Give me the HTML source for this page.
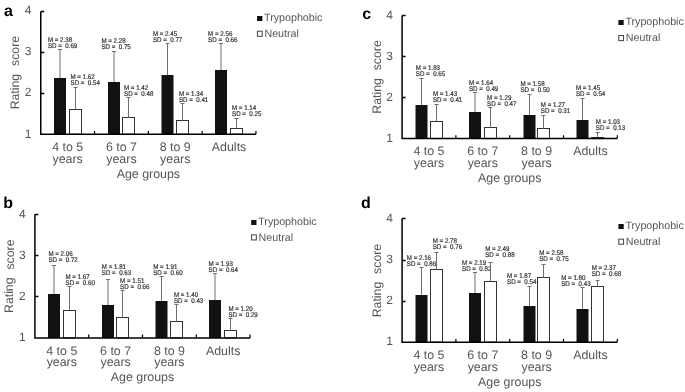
<!DOCTYPE html>
<html><head><meta charset="utf-8"><style>
html,body{margin:0;padding:0;background:#fff;}
body{width:685px;height:392px;overflow:hidden;}
svg{display:block;will-change:transform;text-rendering:geometricPrecision;font-family:"Liberation Sans",sans-serif;}
.let{font-size:16px;font-weight:bold;fill:#000;}
.tk{font-size:12px;fill:#555;text-anchor:end;}
.ax{font-size:12.3px;fill:#555;}
.cat{font-size:12.4px;fill:#555;text-anchor:middle;}
.leg{font-size:10.7px;fill:#555;}
.ms{font-size:6.8px;fill:#333;stroke:#333;stroke-width:0.2px;}
</style></head><body>
<svg width="685" height="392" viewBox="0 0 685 392">
<rect width="685" height="392" fill="#fff"/>
<text x="4" y="16.4" class="let">a</text>
<text x="31.5" y="137.5" class="tk">1</text>
<text x="31.5" y="96.42" class="tk">2</text>
<text x="31.5" y="55.34" class="tk">3</text>
<text x="31.5" y="14.26" class="tk">4</text>
<text transform="translate(19.25,109.35) rotate(-90)" class="ax">Rating</text>
<text transform="translate(19.35,65.95) rotate(-90)" class="ax">score</text>
<text x="67.65" y="150.95" class="cat">4 to 5</text>
<text x="67.65" y="162.7" class="cat">years</text>
<text x="121.45" y="150.95" class="cat">6 to 7</text>
<text x="121.45" y="162.7" class="cat">years</text>
<text x="175.25" y="150.95" class="cat">8 to 9</text>
<text x="175.25" y="162.7" class="cat">years</text>
<text x="229.05" y="150.95" class="cat">Adults</text>
<text x="148.35" y="177.75" class="cat">Age groups</text>
<rect x="257.05" y="16" width="5.3" height="5" fill="#111"/>
<rect x="257.4" y="31.2" width="4.8" height="5.1" fill="#fff" stroke="#444" stroke-width="1"/>
<text x="264.05" y="20.9" class="leg">Trypophobic</text>
<text x="264.45" y="36.7" class="leg">Neutral</text>
<rect x="54" y="78" width="12" height="56.25" fill="#111"/>
<rect x="69.5" y="109.5" width="12" height="24.75" fill="#fff" stroke="#333" stroke-width="1"/>
<path d="M60 78V49.5M58 49.5H62" stroke="#707070" stroke-width="1" fill="none"/>
<g transform="translate(47.9,41.7) scale(0.91,1)"><text x="0" y="0" class="ms">M = 2.38</text><text x="0" y="6.1" class="ms" xml:space="preserve">SD =  0.69</text></g>
<path d="M75.5 109.5V87.5M73.5 87.5H77.5" stroke="#707070" stroke-width="1" fill="none"/>
<g transform="translate(70.5,78.7) scale(0.91,1)"><text x="0" y="0" class="ms">M = 1.62</text><text x="0" y="6.1" class="ms" xml:space="preserve">SD =  0.54</text></g>
<rect x="108" y="82" width="12" height="52.25" fill="#111"/>
<rect x="122.5" y="117.5" width="12" height="16.75" fill="#fff" stroke="#333" stroke-width="1"/>
<path d="M114 82V51.5M112 51.5H116" stroke="#707070" stroke-width="1" fill="none"/>
<g transform="translate(101.4,42.7) scale(0.91,1)"><text x="0" y="0" class="ms">M = 2.28</text><text x="0" y="6.1" class="ms" xml:space="preserve">SD =  0.75</text></g>
<path d="M128.5 117.5V97.5M126.5 97.5H130.5" stroke="#707070" stroke-width="1" fill="none"/>
<g transform="translate(124,89.6) scale(0.91,1)"><text x="0" y="0" class="ms">M = 1.42</text><text x="0" y="6.1" class="ms" xml:space="preserve">SD =  0.48</text></g>
<rect x="161.5" y="75" width="12" height="59.25" fill="#111"/>
<rect x="176.5" y="120.5" width="12" height="13.75" fill="#fff" stroke="#333" stroke-width="1"/>
<path d="M167.5 75V43.5M165.5 43.5H169.5" stroke="#707070" stroke-width="1" fill="none"/>
<g transform="translate(152.9,35.6) scale(0.91,1)"><text x="0" y="0" class="ms">M = 2.45</text><text x="0" y="6.1" class="ms" xml:space="preserve">SD =  0.77</text></g>
<path d="M182.5 120.5V103.5M180.5 103.5H184.5" stroke="#707070" stroke-width="1" fill="none"/>
<g transform="translate(178.9,96.1) scale(0.91,1)"><text x="0" y="0" class="ms">M = 1.34</text><text x="0" y="6.1" class="ms" xml:space="preserve">SD =  0.41</text></g>
<rect x="215" y="70" width="12" height="64.25" fill="#111"/>
<rect x="230.5" y="128.5" width="12" height="5.75" fill="#fff" stroke="#333" stroke-width="1"/>
<path d="M221 70V43.5M219 43.5H223" stroke="#707070" stroke-width="1" fill="none"/>
<g transform="translate(208.1,35.8) scale(0.91,1)"><text x="0" y="0" class="ms">M = 2.56</text><text x="0" y="6.1" class="ms" xml:space="preserve">SD =  0.66</text></g>
<path d="M236.5 128.5V118.5M234.5 118.5H238.5" stroke="#707070" stroke-width="1" fill="none"/>
<g transform="translate(232,110.3) scale(0.91,1)"><text x="0" y="0" class="ms">M = 1.14</text><text x="0" y="6.1" class="ms" xml:space="preserve">SD =  0.25</text></g>
<path d="M40.75 11.5H44.25M40.75 52.5H44.25M40.75 93.5H44.25M40.75 11.5V134.25H255.95" stroke="#000" stroke-width="1.5" fill="none"/>
<path d="M94.55 134.25V130.95M148.35 134.25V130.95M202.15 134.25V130.95M255.95 134.25V130.95" stroke="#000" stroke-width="1.2" fill="none"/>
<text x="3.3" y="207.6" class="let">b</text>
<text x="25.65" y="341.15" class="tk">1</text>
<text x="25.65" y="300.07" class="tk">2</text>
<text x="25.65" y="258.99" class="tk">3</text>
<text x="25.65" y="217.91" class="tk">4</text>
<text transform="translate(13.4,313) rotate(-90)" class="ax">Rating</text>
<text transform="translate(13.5,269.6) rotate(-90)" class="ax">score</text>
<text x="61.8" y="354.6" class="cat">4 to 5</text>
<text x="61.8" y="366.35" class="cat">years</text>
<text x="115.6" y="354.6" class="cat">6 to 7</text>
<text x="115.6" y="366.35" class="cat">years</text>
<text x="169.4" y="354.6" class="cat">8 to 9</text>
<text x="169.4" y="366.35" class="cat">years</text>
<text x="223.2" y="354.6" class="cat">Adults</text>
<text x="142.5" y="381.4" class="cat">Age groups</text>
<rect x="251.2" y="220" width="5.3" height="5" fill="#111"/>
<rect x="251.55" y="234.85" width="4.8" height="5.1" fill="#fff" stroke="#444" stroke-width="1"/>
<text x="258.2" y="224.95" class="leg">Trypophobic</text>
<text x="258.6" y="240.75" class="leg">Neutral</text>
<rect x="48" y="294" width="12" height="43.9" fill="#111"/>
<rect x="63.5" y="310.5" width="12" height="27.4" fill="#fff" stroke="#333" stroke-width="1"/>
<path d="M54 294V265.5M52 265.5H56" stroke="#707070" stroke-width="1" fill="none"/>
<g transform="translate(48.4,256.4) scale(0.91,1)"><text x="0" y="0" class="ms">M = 2.06</text><text x="0" y="6.1" class="ms" xml:space="preserve">SD =  0.72</text></g>
<path d="M69.5 310.5V286.5M67.5 286.5H71.5" stroke="#707070" stroke-width="1" fill="none"/>
<g transform="translate(65.5,279) scale(0.91,1)"><text x="0" y="0" class="ms">M = 1.67</text><text x="0" y="6.1" class="ms" xml:space="preserve">SD =  0.60</text></g>
<rect x="102" y="305" width="12" height="32.9" fill="#111"/>
<rect x="116.5" y="317.5" width="12" height="20.4" fill="#fff" stroke="#333" stroke-width="1"/>
<path d="M108 305V279.5M106 279.5H110" stroke="#707070" stroke-width="1" fill="none"/>
<g transform="translate(101.8,269.4) scale(0.91,1)"><text x="0" y="0" class="ms">M = 1.81</text><text x="0" y="6.1" class="ms" xml:space="preserve">SD =  0.63</text></g>
<path d="M122.5 317.5V290.5M120.5 290.5H124.5" stroke="#707070" stroke-width="1" fill="none"/>
<g transform="translate(120.1,282.9) scale(0.91,1)"><text x="0" y="0" class="ms">M = 1.51</text><text x="0" y="6.1" class="ms" xml:space="preserve">SD =  0.66</text></g>
<rect x="155.5" y="301" width="12" height="36.9" fill="#111"/>
<rect x="170.5" y="321.5" width="12" height="16.4" fill="#fff" stroke="#333" stroke-width="1"/>
<path d="M161.5 301V276.5M159.5 276.5H163.5" stroke="#707070" stroke-width="1" fill="none"/>
<g transform="translate(153.2,268.6) scale(0.91,1)"><text x="0" y="0" class="ms">M = 1.91</text><text x="0" y="6.1" class="ms" xml:space="preserve">SD =  0.60</text></g>
<path d="M176.5 321.5V304.5M174.5 304.5H178.5" stroke="#707070" stroke-width="1" fill="none"/>
<g transform="translate(173.9,297) scale(0.91,1)"><text x="0" y="0" class="ms">M = 1.40</text><text x="0" y="6.1" class="ms" xml:space="preserve">SD =  0.43</text></g>
<rect x="209" y="300" width="12" height="37.9" fill="#111"/>
<rect x="224.5" y="330.5" width="12" height="7.4" fill="#fff" stroke="#333" stroke-width="1"/>
<path d="M215 300V273.5M213 273.5H217" stroke="#707070" stroke-width="1" fill="none"/>
<g transform="translate(208.6,266.4) scale(0.91,1)"><text x="0" y="0" class="ms">M = 1.93</text><text x="0" y="6.1" class="ms" xml:space="preserve">SD =  0.64</text></g>
<path d="M230.5 330.5V318.5M228.5 318.5H232.5" stroke="#707070" stroke-width="1" fill="none"/>
<g transform="translate(228.4,310.7) scale(0.91,1)"><text x="0" y="0" class="ms">M = 1.20</text><text x="0" y="6.1" class="ms" xml:space="preserve">SD =  0.29</text></g>
<path d="M34.9 214.5H38.4M34.9 255.5H38.4M34.9 296.5H38.4M34.9 214.5V337.9H250.1" stroke="#000" stroke-width="1.5" fill="none"/>
<path d="M88.7 337.9V334.6M142.5 337.9V334.6M196.3 337.9V334.6M250.1 337.9V334.6" stroke="#000" stroke-width="1.2" fill="none"/>
<text x="362.2" y="18.7" class="let">c</text>
<text x="392.85" y="141.85" class="tk">1</text>
<text x="392.85" y="100.77" class="tk">2</text>
<text x="392.85" y="59.69" class="tk">3</text>
<text x="392.85" y="18.61" class="tk">4</text>
<text transform="translate(380.6,113.7) rotate(-90)" class="ax">Rating</text>
<text transform="translate(380.7,70.3) rotate(-90)" class="ax">score</text>
<text x="429" y="154.9" class="cat">4 to 5</text>
<text x="429" y="166.65" class="cat">years</text>
<text x="482.8" y="154.9" class="cat">6 to 7</text>
<text x="482.8" y="166.65" class="cat">years</text>
<text x="536.6" y="154.9" class="cat">8 to 9</text>
<text x="536.6" y="166.65" class="cat">years</text>
<text x="590.4" y="154.9" class="cat">Adults</text>
<text x="509.7" y="181.7" class="cat">Age groups</text>
<rect x="618.4" y="20" width="5.3" height="5" fill="#111"/>
<rect x="618.75" y="35.55" width="4.8" height="5.1" fill="#fff" stroke="#444" stroke-width="1"/>
<text x="625.4" y="25.25" class="leg">Trypophobic</text>
<text x="625.8" y="41.05" class="leg">Neutral</text>
<rect x="415.5" y="105" width="12" height="33.6" fill="#111"/>
<rect x="430.5" y="121.5" width="12" height="17.1" fill="#fff" stroke="#333" stroke-width="1"/>
<path d="M421.5 105V78.5M419.5 78.5H423.5" stroke="#707070" stroke-width="1" fill="none"/>
<g transform="translate(415.8,69.9) scale(0.91,1)"><text x="0" y="0" class="ms">M = 1.83</text><text x="0" y="6.1" class="ms" xml:space="preserve">SD =  0.65</text></g>
<path d="M436.5 121.5V104.5M434.5 104.5H438.5" stroke="#707070" stroke-width="1" fill="none"/>
<g transform="translate(432.9,95.8) scale(0.91,1)"><text x="0" y="0" class="ms">M = 1.43</text><text x="0" y="6.1" class="ms" xml:space="preserve">SD =  0.41</text></g>
<rect x="469" y="112" width="12" height="26.6" fill="#111"/>
<rect x="484.5" y="127.5" width="12" height="11.1" fill="#fff" stroke="#333" stroke-width="1"/>
<path d="M475 112V92.5M473 92.5H477" stroke="#707070" stroke-width="1" fill="none"/>
<g transform="translate(468.9,84.5) scale(0.91,1)"><text x="0" y="0" class="ms">M = 1.64</text><text x="0" y="6.1" class="ms" xml:space="preserve">SD =  0.49</text></g>
<path d="M490.5 127.5V107.5M488.5 107.5H492.5" stroke="#707070" stroke-width="1" fill="none"/>
<g transform="translate(487.1,99.9) scale(0.91,1)"><text x="0" y="0" class="ms">M = 1.29</text><text x="0" y="6.1" class="ms" xml:space="preserve">SD =  0.47</text></g>
<rect x="523.5" y="115" width="12" height="23.6" fill="#111"/>
<rect x="537.5" y="128.5" width="12" height="10.1" fill="#fff" stroke="#333" stroke-width="1"/>
<path d="M529.5 115V94.5M527.5 94.5H531.5" stroke="#707070" stroke-width="1" fill="none"/>
<g transform="translate(520.4,85.9) scale(0.91,1)"><text x="0" y="0" class="ms">M = 1.58</text><text x="0" y="6.1" class="ms" xml:space="preserve">SD =  0.50</text></g>
<path d="M543.5 128.5V115.5M541.5 115.5H545.5" stroke="#707070" stroke-width="1" fill="none"/>
<g transform="translate(540.8,106.6) scale(0.91,1)"><text x="0" y="0" class="ms">M = 1.27</text><text x="0" y="6.1" class="ms" xml:space="preserve">SD =  0.31</text></g>
<rect x="576.5" y="120" width="12" height="18.6" fill="#111"/>
<rect x="591.5" y="137.5" width="12" height="1.1" fill="#fff" stroke="#333" stroke-width="1"/>
<path d="M582.5 120V98.5M580.5 98.5H584.5" stroke="#707070" stroke-width="1" fill="none"/>
<g transform="translate(575.9,90.3) scale(0.91,1)"><text x="0" y="0" class="ms">M = 1.45</text><text x="0" y="6.1" class="ms" xml:space="preserve">SD =  0.54</text></g>
<path d="M597.5 137.5V132.5M595.5 132.5H599.5" stroke="#707070" stroke-width="1" fill="none"/>
<g transform="translate(595.8,124) scale(0.91,1)"><text x="0" y="0" class="ms">M = 1.03</text><text x="0" y="6.1" class="ms" xml:space="preserve">SD =  0.13</text></g>
<path d="M402.1 15.5H405.6M402.1 56.5H405.6M402.1 97.5H405.6M402.1 15.5V138.6H617.3" stroke="#000" stroke-width="1.5" fill="none"/>
<path d="M455.9 138.6V135.3M509.7 138.6V135.3M563.5 138.6V135.3M617.3 138.6V135.3" stroke="#000" stroke-width="1.2" fill="none"/>
<text x="360.9" y="207.6" class="let">d</text>
<text x="392.85" y="345.45" class="tk">1</text>
<text x="392.85" y="304.37" class="tk">2</text>
<text x="392.85" y="263.29" class="tk">3</text>
<text x="392.85" y="222.21" class="tk">4</text>
<text transform="translate(380.6,317.3) rotate(-90)" class="ax">Rating</text>
<text transform="translate(380.7,273.9) rotate(-90)" class="ax">score</text>
<text x="429" y="358.9" class="cat">4 to 5</text>
<text x="429" y="370.65" class="cat">years</text>
<text x="482.8" y="358.9" class="cat">6 to 7</text>
<text x="482.8" y="370.65" class="cat">years</text>
<text x="536.6" y="358.9" class="cat">8 to 9</text>
<text x="536.6" y="370.65" class="cat">years</text>
<text x="590.4" y="358.9" class="cat">Adults</text>
<text x="509.7" y="385.7" class="cat">Age groups</text>
<rect x="618.4" y="224" width="5.3" height="5" fill="#111"/>
<rect x="618.75" y="239.15" width="4.8" height="5.1" fill="#fff" stroke="#444" stroke-width="1"/>
<text x="625.4" y="229.35" class="leg">Trypophobic</text>
<text x="625.8" y="245.15" class="leg">Neutral</text>
<rect x="415.5" y="295" width="12" height="47.2" fill="#111"/>
<rect x="430.5" y="269.5" width="12" height="72.7" fill="#fff" stroke="#333" stroke-width="1"/>
<path d="M421.5 295V267.5M419.5 267.5H423.5" stroke="#707070" stroke-width="1" fill="none"/>
<g transform="translate(406.8,260.2) scale(0.91,1)"><text x="0" y="0" class="ms">M = 2.16</text><text x="0" y="6.1" class="ms" xml:space="preserve">SD =  0.86</text></g>
<path d="M436.5 269.5V252.5M434.5 252.5H438.5" stroke="#707070" stroke-width="1" fill="none"/>
<g transform="translate(432.7,243.4) scale(0.91,1)"><text x="0" y="0" class="ms">M = 2.78</text><text x="0" y="6.1" class="ms" xml:space="preserve">SD =  0.76</text></g>
<rect x="469" y="293" width="12" height="49.2" fill="#111"/>
<rect x="484.5" y="281.5" width="12" height="60.7" fill="#fff" stroke="#333" stroke-width="1"/>
<path d="M475 293V272.5M473 272.5H477" stroke="#707070" stroke-width="1" fill="none"/>
<g transform="translate(462,264.9) scale(0.91,1)"><text x="0" y="0" class="ms">M = 2.19</text><text x="0" y="6.1" class="ms" xml:space="preserve">SD =  0.82</text></g>
<path d="M490.5 281.5V262.5M488.5 262.5H492.5" stroke="#707070" stroke-width="1" fill="none"/>
<g transform="translate(485.2,251.3) scale(0.91,1)"><text x="0" y="0" class="ms">M = 2.49</text><text x="0" y="6.1" class="ms" xml:space="preserve">SD =  0.88</text></g>
<rect x="523.5" y="306" width="12" height="36.2" fill="#111"/>
<rect x="537.5" y="277.5" width="12" height="64.7" fill="#fff" stroke="#333" stroke-width="1"/>
<path d="M529.5 306V286.5M527.5 286.5H531.5" stroke="#707070" stroke-width="1" fill="none"/>
<g transform="translate(507,277.9) scale(0.91,1)"><text x="0" y="0" class="ms">M = 1.87</text><text x="0" y="6.1" class="ms" xml:space="preserve">SD =  0.54</text></g>
<path d="M543.5 277.5V264.5M541.5 264.5H545.5" stroke="#707070" stroke-width="1" fill="none"/>
<g transform="translate(539.2,254.9) scale(0.91,1)"><text x="0" y="0" class="ms">M = 2.58</text><text x="0" y="6.1" class="ms" xml:space="preserve">SD =  0.75</text></g>
<rect x="576.5" y="309" width="12" height="33.2" fill="#111"/>
<rect x="591.5" y="286.5" width="12" height="55.7" fill="#fff" stroke="#333" stroke-width="1"/>
<path d="M582.5 309V287.5M580.5 287.5H584.5" stroke="#707070" stroke-width="1" fill="none"/>
<g transform="translate(561.2,279.7) scale(0.91,1)"><text x="0" y="0" class="ms">M = 1.80</text><text x="0" y="6.1" class="ms" xml:space="preserve">SD =  0.43</text></g>
<path d="M597.5 286.5V280.5M595.5 280.5H599.5" stroke="#707070" stroke-width="1" fill="none"/>
<g transform="translate(591.7,269.8) scale(0.91,1)"><text x="0" y="0" class="ms">M = 2.37</text><text x="0" y="6.1" class="ms" xml:space="preserve">SD =  0.68</text></g>
<path d="M402.1 218.5H405.6M402.1 260.5H405.6M402.1 301.5H405.6M402.1 218.5V342.2H617.3" stroke="#000" stroke-width="1.5" fill="none"/>
<path d="M455.9 342.2V338.9M509.7 342.2V338.9M563.5 342.2V338.9M617.3 342.2V338.9" stroke="#000" stroke-width="1.2" fill="none"/>
</svg>
</body></html>
